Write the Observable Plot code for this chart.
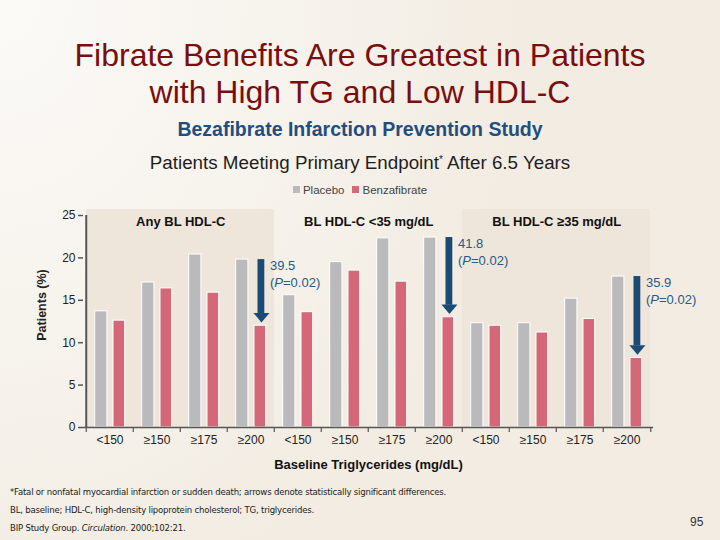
<!DOCTYPE html>
<html>
<head>
<meta charset="utf-8">
<script src="https://cdn.jsdelivr.net/npm/d3@7"></script>
<script src="https://cdn.jsdelivr.net/npm/@observablehq/plot@0.6"></script>
<style>
  html, body { margin: 0; padding: 0; }
  body { width: 720px; height: 540px; overflow: hidden; font-family: "Liberation Sans", Arial, sans-serif; }
  #slide {
    position: relative; width: 720px; height: 540px; overflow: hidden;
    background: radial-gradient(ellipse 520px 620px at 0% 0%, #fbfaf7 0%, #f7f3ed 55%, #f2ece2 100%);
  }
  .abs { position: absolute; left: 0; width: 720px; text-align: center; white-space: nowrap; }
  #title { top: 37px; font-size: 32px; line-height: 37px; color: #7a0e0e; }
  #sub1 { top: 118px; font-size: 19.5px; font-weight: bold; color: #234d7c; }
  #sub2 { top: 152px; font-size: 18.8px; color: #1e1e1e; }
  #sub2 sup { font-size: 10px; vertical-align: 6px; }
  #legend { top: 184px; font-size: 11.5px; color: #444; }
  #legend span.sw { display: inline-block; width: 7px; height: 7px; margin-right: 3px; vertical-align: 1px; }
  #chart { position: absolute; left: 0; top: 200px; }
  #ylabel { position: absolute; left: 42px; top: 305px; transform: translate(-50%, -50%) rotate(-90deg); font-size: 12.5px; font-weight: bold; color: #222; white-space: nowrap; }
  .foot { position: absolute; left: 10px; font-family: "DejaVu Sans Condensed", "Liberation Sans", sans-serif; font-size: 9.5px; color: #222; white-space: nowrap; letter-spacing: -0.2px; }
  #page { position: absolute; left: 690px; top: 515px; font-size: 12px; color: #333; }
</style>
</head>
<body>
<div id="slide">
  <div id="title" class="abs">Fibrate Benefits Are Greatest in Patients<br>with High TG and Low HDL-C</div>
  <div id="sub1" class="abs">Bezafibrate Infarction Prevention Study</div>
  <div id="sub2" class="abs">Patients Meeting Primary Endpoint<sup>*</sup> After 6.5 Years</div>
  <div id="legend" class="abs"></div>
  <div id="chart"></div>
  <div id="ylabel">Patients (%)</div>
  <div class="foot" style="top:486px">*Fatal or nonfatal myocardial infarction or sudden death; arrows denote statistically significant differences.</div>
  <div class="foot" style="top:504px">BL, baseline; HDL-C, high-density lipoprotein cholesterol; TG, triglycerides.</div>
  <div class="foot" style="top:522px">BIP Study Group. <i>Circulation</i>. 2000;102:21.</div>
  <div id="page">95</div>
</div>
<script>
// ---- data ----
const panels = ["Any BL HDL-C", "BL HDL-C <35 mg/dL", "BL HDL-C \u226535 mg/dL"];
const tgCategories = ["<150", "\u2265150", "\u2265175", "\u2265200"];
const series = ["Placebo", "Benzafibrate"];
const placebo = [13.7, 17.1, 20.4, 19.8, 15.6, 19.5, 22.3, 22.4, 12.3, 12.3, 15.2, 17.8];
const bezafibrate = [12.6, 16.4, 15.9, 12.0, 13.6, 18.5, 17.2, 13.0, 12.0, 11.2, 12.8, 8.2];
const arrowIndex = [3, 7, 11];
const riskReduction = ["39.5", "41.8", "35.9"];
const pValues = ["0.02", "0.02", "0.02"];
const yTicks = [0, 5, 10, 15, 20, 25];
const shadedPanels = [0, 2];
const xLabel = "Baseline Triglycerides (mg/dL)";
const colors = { Placebo: "#bababc", Benzafibrate: "#d46878" };

// ---- derived tables ----
const rows = [];
panels.forEach((p, pi) => tgCategories.forEach((c, ci) => {
  const i = pi * 4 + ci;
  rows.push({ key: pi + "|" + c, panel: p, cat: c, placebo: placebo[i], bezafibrate: bezafibrate[i] });
}));
const keys = rows.map(d => d.key);
const arrows = arrowIndex.map((i, k) => ({ ...rows[i], rr: riskReduction[k], p: "(P=" + pValues[k] + ")" }));
const panelRows = rows.filter((d, i) => shadedPanels.includes(Math.floor(i / 4)));
const titleRows = panels.map((p, pi) => ({ key: keys[pi * 4 + 1], text: p }));

// legend
document.getElementById("legend").innerHTML = series.map(s =>
  `<span class="sw" style="background:${colors[s]}"></span>${s}`).join('<span style="display:inline-block;width:8px"></span>');

// layout constants (pixels)
const W = 720, H = 275, ML = 83, MR = 67, MT = 15, MB = 48;
const band = (W - ML - MR) / keys.length;
const half = band / 2;

const arrowHead = {
  draw(context, size) {
    const s = Math.sqrt(size / Math.PI);
    context.moveTo(-s, -s * 0.6);
    context.lineTo(s, -s * 0.6);
    context.lineTo(0, s * 0.6);
    context.closePath();
  }
};

const arrowColor = "#1b4a75";
const noteColor = "#2b5885";

const plot = Plot.plot({
  width: W, height: H,
  marginLeft: ML, marginRight: MR, marginTop: MT, marginBottom: MB,
  style: { background: "transparent", fontFamily: "'Liberation Sans', Arial, sans-serif", color: "#222" },
  x: { type: "band", domain: keys, padding: 0, axis: null },
  y: { domain: [0, 25], axis: null },
  marks: [
    // shaded panels
    Plot.barY(panelRows, { x: "key", y1: 0, y2: 25.7, fill: "#eee6da" }),
    // bars
    Plot.barY(rows, { x: "key", y: "placebo", fill: colors.Placebo, stroke: "#fff", strokeWidth: 1,
      insetLeft: 8.7, insetRight: band - 21.4 }),
    Plot.barY(rows, { x: "key", y: "bezafibrate", fill: colors.Benzafibrate, stroke: "#fff", strokeWidth: 1,
      insetLeft: 27, insetRight: band - 39.2 }),
    // y axis
    Plot.axisY({ ticks: yTicks, tickSize: 5, tickPadding: 3, fontSize: 12, stroke: "#555", strokeWidth: 1.5 }),
    Plot.ruleX([0], { x: () => keys[0], dx: -half, y1: 0, y2: 25, stroke: "#555", strokeWidth: 2 }),
    // x axis
    Plot.ruleY([0], { stroke: "#555", strokeWidth: 1.5 }),
    Plot.ruleX(keys, { x: d => d, dx: -half, y1: 0, y2: -0.6, stroke: "#555", strokeWidth: 1.2 }),
    Plot.ruleX([keys[keys.length - 1]], { x: d => d, dx: half, y1: 0, y2: -0.6, stroke: "#555", strokeWidth: 1.2 }),
    Plot.axisX({ tickSize: 0, tickPadding: 8, fontSize: 12, tickFormat: k => k.split("|")[1], label: null }),
    Plot.text([xLabel], { frameAnchor: "bottom", dy: 41, text: d => d, fontSize: 13, fontWeight: "bold", fill: "#111" }),
    // panel titles
    Plot.text(titleRows, { x: "key", y: 24.2, dx: half, text: "text", fontSize: 13, fontWeight: "bold", fill: "#111" }),
    // significance arrows
    Plot.barY(arrows, { x: "key", y1: "bezafibrate", y2: "placebo", insetBottom: 12,
      insetLeft: 30.5, insetRight: band - 37.8, fill: arrowColor }),
    Plot.dot(arrows, { x: "key", y: "bezafibrate", dx: 34.2 - half, dy: -8, r: 8, symbol: arrowHead, fill: arrowColor, stroke: "none" }),
    Plot.text(arrows, { x: "key", y: "placebo", dx: 19, dy: 6, text: "rr", textAnchor: "start", fontSize: 13, fill: noteColor }),
    Plot.text(arrows, { x: "key", y: "placebo", dx: 19, dy: 23, text: "p", textAnchor: "start", fontSize: 13, fill: noteColor })
  ]
});

// italicise the P in the p-value labels
plot.querySelectorAll("text").forEach(t => {
  const s = t.textContent;
  const m = /^\(P(=.*)$/.exec(s);
  if (m && t.children.length === 0) {
    t.textContent = "";
    const ns = "http://www.w3.org/2000/svg";
    const a = document.createElementNS(ns, "tspan"); a.textContent = "(";
    const b = document.createElementNS(ns, "tspan"); b.textContent = "P"; b.setAttribute("font-style", "italic");
    const c = document.createElementNS(ns, "tspan"); c.textContent = m[1];
    t.append(a, b, c);
  }
});

document.getElementById("chart").appendChild(plot);
</script>
</body>
</html>
